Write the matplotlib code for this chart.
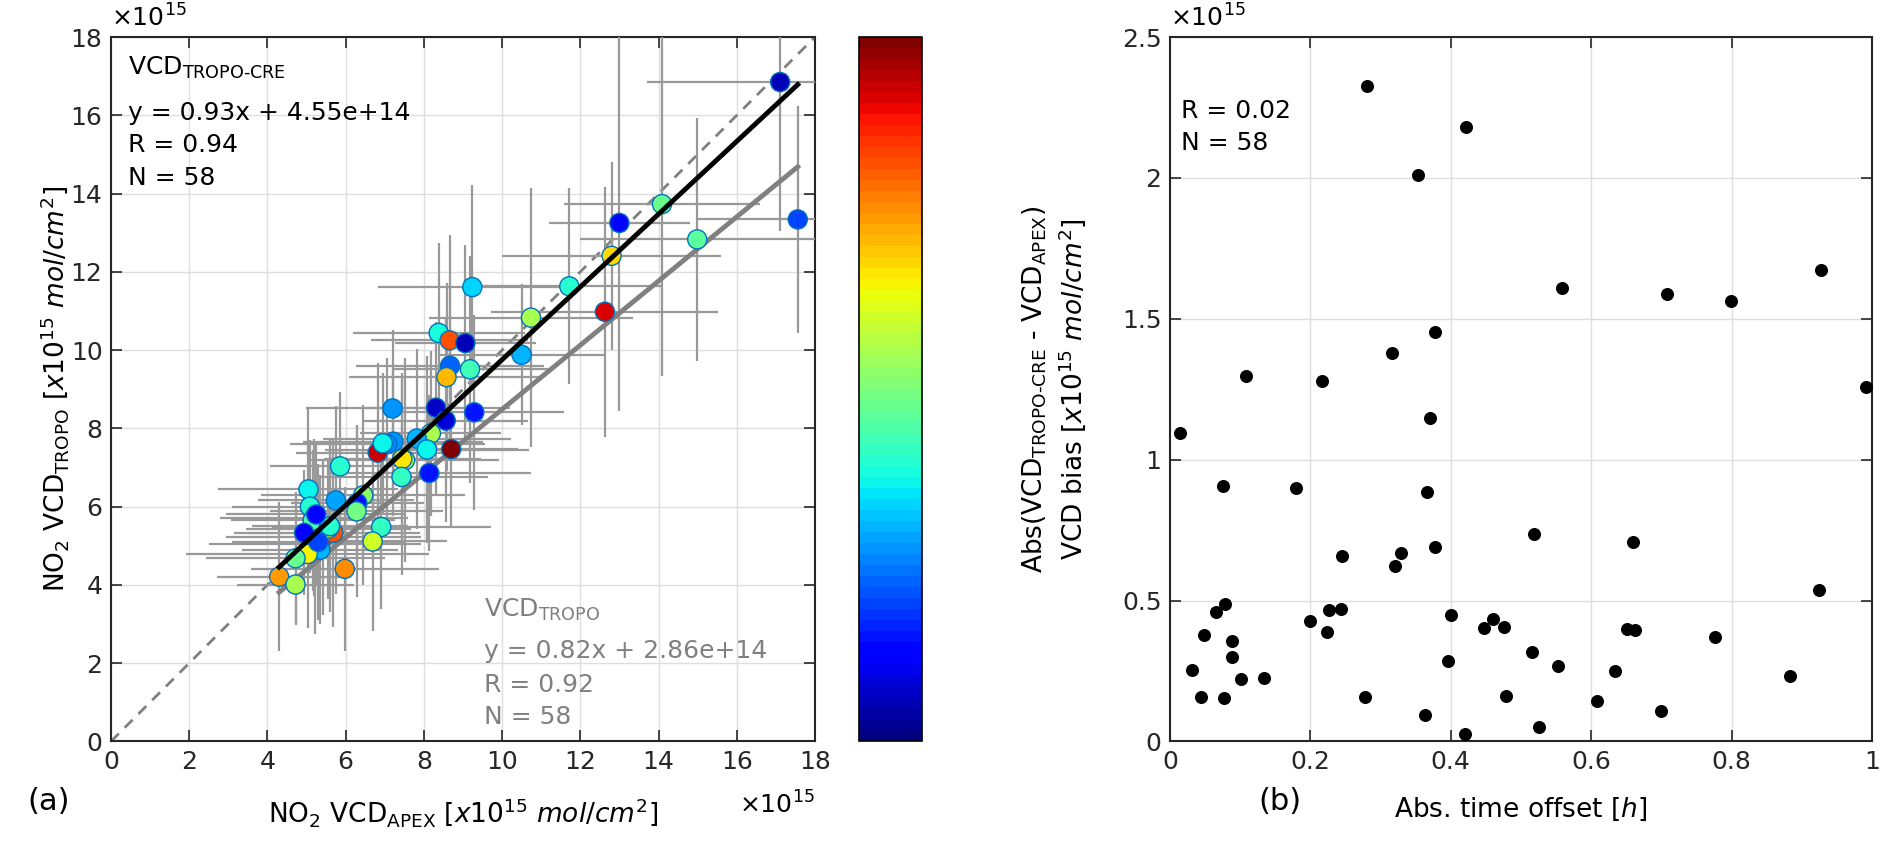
import matplotlib
matplotlib.use('Agg')
import matplotlib.pyplot as plt
import numpy as np
from matplotlib.ticker import FuncFormatter, MultipleLocator

plt.rcParams['font.family'] = ['DejaVu Sans']
plt.rcParams['mathtext.fontset'] = 'dejavusans'

# ---- panel (a): NO2 VCD APEX vs TROPO-CRE, units of 1e15 molec/cm2
apex = [17.11, 17.56, 14.09, 13.00, 14.99, 12.80, 11.72, 9.24, 12.63, 10.74,
        8.38, 8.66, 9.06, 10.50, 8.67, 9.18, 8.58, 7.20, 8.31, 9.29,
        8.56, 8.18, 7.82, 8.08, 8.70, 7.22, 7.07, 6.82, 6.95, 7.52,
        7.45, 7.43, 8.14, 5.86, 5.05, 5.75, 6.45, 6.30, 6.28, 5.09,
        5.20, 5.16, 6.91, 6.69, 4.94, 5.43, 5.69, 5.56, 5.22, 5.35,
        5.03, 4.72, 5.98, 4.30, 4.72, 5.30, 5.60, 5.25]
tropo_cre = [16.85, 13.34, 13.73, 13.25, 12.83, 12.41, 11.63, 11.61, 10.98, 10.83,
             10.44, 10.25, 10.18, 9.88, 9.60, 9.51, 9.31, 8.51, 8.53, 8.41,
             8.20, 7.87, 7.74, 7.46, 7.47, 7.66, 7.60, 7.38, 7.62, 7.19,
             7.22, 6.76, 6.86, 7.03, 6.44, 6.16, 6.29, 6.09, 5.88, 6.00,
             5.72, 5.65, 5.48, 5.11, 5.33, 5.22, 5.33, 5.44, 5.05, 4.90,
             4.79, 4.68, 4.41, 4.21, 4.01, 5.10, 5.50, 5.80]
apex_err = [3.4, 2.6, 2.5, 1.8, 3.0, 2.8, 2.4, 2.4, 2.9, 2.6,
            2.2, 2.0, 1.8, 2.1, 2.4, 2.0, 2.5, 2.2, 1.9, 2.3,
            2.1, 1.8, 2.4, 2.6, 1.7, 2.3, 2.5, 2.1, 1.9, 2.4,
            2.0, 2.2, 2.6, 1.8, 2.3, 2.0, 2.6, 1.7, 2.2, 2.0,
            2.4, 2.1, 2.8, 1.9, 1.8, 2.5, 2.2, 2.1, 2.7, 2.0,
            3.1, 2.3, 2.4, 1.6, 1.5, 2.2, 2.0, 2.3]
tropo_err = [3.8, 2.9, 4.4, 4.8, 3.1, 2.4, 2.5, 2.6, 3.2, 3.3,
             2.3, 2.7, 2.5, 1.8, 2.1, 2.9, 2.4, 2.0, 2.2, 2.5,
             2.6, 2.1, 2.3, 2.4, 2.0, 1.9, 2.2, 2.3, 1.8, 2.6,
             2.2, 2.5, 2.0, 1.9, 2.1, 2.4, 2.3, 2.0, 2.2, 1.7,
             2.0, 1.8, 2.1, 2.3, 1.6, 2.0, 2.4, 1.8, 2.3, 1.9,
             1.9, 1.7, 2.1, 1.9, 1.0, 2.0, 2.2, 1.8]
color_val = [0.06, 0.20, 0.47, 0.13, 0.46, 0.68, 0.40, 0.33, 0.92, 0.55,
             0.38, 0.82, 0.06, 0.30, 0.22, 0.43, 0.71, 0.28, 0.07, 0.15,
             0.08, 0.55, 0.30, 0.36, 1.00, 0.27, 0.25, 0.93, 0.37, 0.55,
             0.66, 0.41, 0.15, 0.40, 0.36, 0.29, 0.52, 0.15, 0.49, 0.40,
             0.13, 0.45, 0.41, 0.60, 0.12, 0.87, 0.82, 0.66, 0.10, 0.30,
             0.65, 0.47, 0.75, 0.74, 0.55, 0.20, 0.40, 0.14]

# regression results shown in the panel
fit_cre = (0.93, 0.455)    # slope, intercept (1e15)
fit_tropo = (0.82, 0.286)

# ---- panel (b): absolute time offset vs absolute VCD bias
time_offset = [0.281, 0.422, 0.354, 0.559, 0.378, 0.316, 0.109, 0.217, 0.371, 0.015,
               0.075, 0.179, 0.366, 0.519, 0.377, 0.245, 0.329, 0.320, 0.708, 0.799,
               0.927, 0.991, 0.659, 0.924, 0.651, 0.663, 0.776, 0.515, 0.552, 0.634,
               0.883, 0.608, 0.700, 0.525, 0.078, 0.065, 0.048, 0.089, 0.089, 0.031,
               0.101, 0.134, 0.044, 0.077, 0.200, 0.226, 0.244, 0.224, 0.278, 0.363,
               0.401, 0.396, 0.460, 0.448, 0.476, 0.479, 0.420]
vcd_bias = [2.326, 2.179, 2.012, 1.611, 1.454, 1.378, 1.296, 1.280, 1.148, 1.095,
            0.906, 0.899, 0.884, 0.737, 0.691, 0.657, 0.670, 0.622, 1.588, 1.562,
            1.674, 1.259, 0.708, 0.539, 0.399, 0.396, 0.371, 0.318, 0.267, 0.249,
            0.233, 0.143, 0.109, 0.052, 0.488, 0.460, 0.379, 0.357, 0.298, 0.252,
            0.221, 0.227, 0.158, 0.154, 0.426, 0.467, 0.471, 0.388, 0.157, 0.093,
            0.448, 0.285, 0.433, 0.401, 0.405, 0.160, 0.025]

fig = plt.figure(figsize=(18.83, 8.42), dpi=100)
ax1 = fig.add_axes([0.0589, 0.1194, 0.3739, 0.8366])
cax = fig.add_axes([0.4562, 0.1194, 0.0335, 0.8366])
ax2 = fig.add_axes([0.6213, 0.1194, 0.3729, 0.8366])

tick_fs = 18
grey = '#808080'


def style_axes(ax):
    ax.grid(True, color='#dedede', lw=1.0, zorder=0)
    ax.set_axisbelow(True)
    ax.tick_params(direction='in', length=8, width=1.2, top=True, right=True,
                   labelsize=tick_fs, colors='#262626', pad=6)
    for s in ax.spines.values():
        s.set_linewidth(1.5)
        s.set_color('#262626')


fmt = FuncFormatter(lambda v, p: '%g' % round(v, 6))

# ---- panel (a)
ax1.plot([0, 18], [0, 18], ls=(0, (4, 3)), color=grey, lw=2, zorder=2)
ax1.errorbar(apex, tropo_cre, xerr=apex_err, yerr=tropo_err, fmt='none',
             ecolor='#999999', elinewidth=1.6, capsize=0, zorder=3)
xs = np.array([min(apex), max(apex)])
ax1.plot(xs, fit_tropo[0] * xs + fit_tropo[1], color=grey, lw=3.5, zorder=4)
sc = ax1.scatter(apex, tropo_cre, c=color_val, cmap=plt.get_cmap('jet', 64),
                 vmin=0, vmax=1, s=190, edgecolors='#0072BD', linewidths=1.0, zorder=5)
ax1.plot(xs, fit_cre[0] * xs + fit_cre[1], color='black', lw=3.5, zorder=6)

ax1.set_xlim(0, 18)
ax1.set_ylim(0, 18)
ax1.xaxis.set_major_locator(MultipleLocator(2))
ax1.yaxis.set_major_locator(MultipleLocator(2))
ax1.xaxis.set_major_formatter(fmt)
ax1.yaxis.set_major_formatter(fmt)
style_axes(ax1)
ax1.set_xlabel(r'NO$_2$ VCD$_{\mathrm{APEX}}$ [$\mathit{x10}^{\mathit{15}}$ $\mathit{mol/cm}^2$]',
               fontsize=19, labelpad=16)
ax1.set_ylabel(r'NO$_2$ VCD$_{\mathrm{TROPO}}$ [$\mathit{x10}^{\mathit{15}}$ $\mathit{mol/cm}^2$]',
               fontsize=19, labelpad=0)

ax1.text(0.43, 17.2, r'VCD$_{\mathrm{TROPO}\text{-}\mathrm{CRE}}$', fontsize=18, va='center')
ax1.text(0.43, 16.05, 'y = 0.93x + 4.55e+14', fontsize=18, va='center')
ax1.text(0.43, 15.23, 'R = 0.94', fontsize=18, va='center')
ax1.text(0.43, 14.41, 'N = 58', fontsize=18, va='center')
ax1.text(9.55, 3.35, r'VCD$_{\mathrm{TROPO}}$', fontsize=18, va='center', color=grey)
ax1.text(9.55, 2.32, 'y = 0.82x + 2.86e+14', fontsize=18, va='center', color=grey)
ax1.text(9.55, 1.45, 'R = 0.92', fontsize=18, va='center', color=grey)
ax1.text(9.55, 0.62, 'N = 58', fontsize=18, va='center', color=grey)

ax1.text(0.0, 1.008, r'$\times$10$^{15}$', transform=ax1.transAxes, fontsize=18,
         ha='left', va='bottom')
ax1.text(1.0, -0.09, r'$\times$10$^{15}$', transform=ax1.transAxes, fontsize=18,
         ha='right', va='center')

cb = fig.colorbar(sc, cax=cax)
cb.set_ticks([])
cb.outline.set_linewidth(1.2)

# ---- panel (b)
ax2.scatter(time_offset, vcd_bias, s=70, color='black', zorder=3)
ax2.set_xlim(0, 1)
ax2.set_ylim(0, 2.5)
ax2.xaxis.set_major_locator(MultipleLocator(0.2))
ax2.yaxis.set_major_locator(MultipleLocator(0.5))
ax2.xaxis.set_major_formatter(fmt)
ax2.yaxis.set_major_formatter(fmt)
style_axes(ax2)
ax2.set_xlabel(r'Abs. time offset [$\mathit{h}$]', fontsize=19, labelpad=16)
ax2.set_ylabel('Abs(VCD$_{\\mathrm{TROPO}\\text{-}\\mathrm{CRE}}$ - VCD$_{\\mathrm{APEX}}$)\n'
               'VCD bias [$\\mathit{x10}^{\\mathit{15}}$ $\\mathit{mol/cm}^2$]',
               fontsize=19, labelpad=24, linespacing=1.3)
ax2.text(0.016, 2.236, 'R = 0.02', fontsize=18, va='center')
ax2.text(0.016, 2.124, 'N = 58', fontsize=18, va='center')
ax2.text(0.0, 1.008, r'$\times$10$^{15}$', transform=ax2.transAxes, fontsize=18,
         ha='left', va='bottom')

fig.text(49 / 1883, 1 - 801 / 842, '(a)', fontsize=22, ha='center', va='center')
fig.text(1280 / 1883, 1 - 801 / 842, '(b)', fontsize=22, ha='center', va='center')

fig.savefig('out.png', dpi=100)
